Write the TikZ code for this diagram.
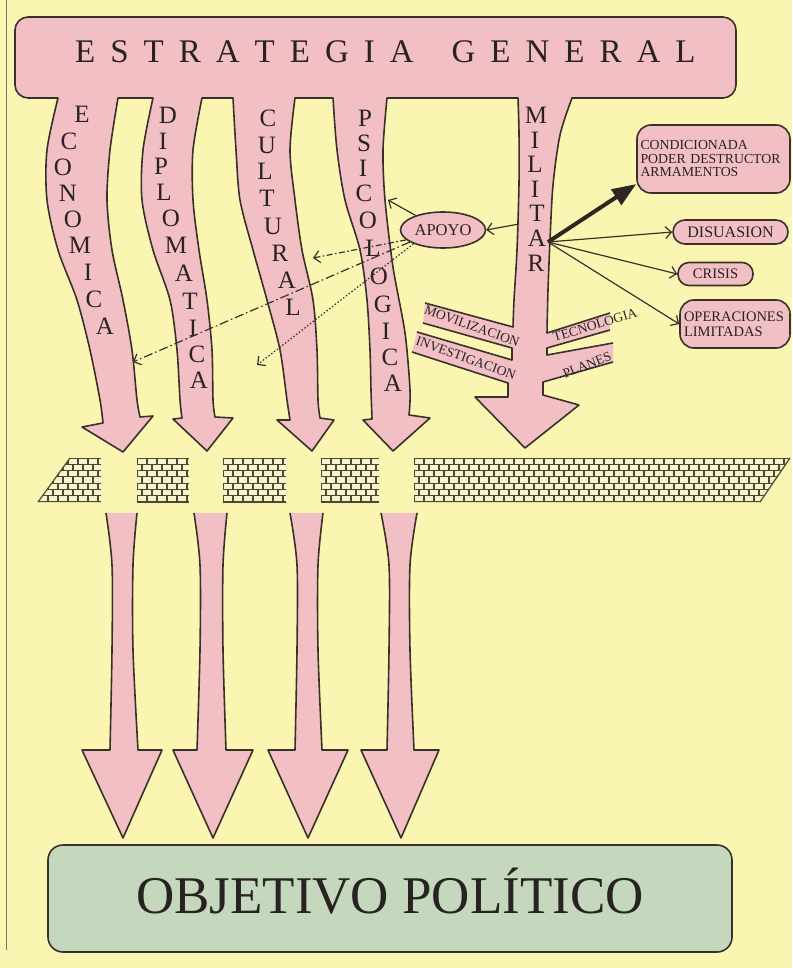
\documentclass[tikz,border=0pt]{standalone}
\usepackage{fontspec}
\setmainfont{Liberation Serif}
\usetikzlibrary{arrows.meta,shapes.geometric}
\definecolor{bgc}{RGB}{250,246,178}
\definecolor{pinkc}{RGB}{242,192,196}
\definecolor{greenc}{RGB}{197,216,190}
\definecolor{outc}{RGB}{58,48,42}
\definecolor{txtc}{RGB}{40,34,34}
\definecolor{mortarc}{RGB}{78,72,48}
\definecolor{brickc}{RGB}{247,243,204}
\newcommand\brickwall[3]{%
  \begin{scope}
    \clip #1;
    \fill[brickc] #1;
    \foreach \r in {0,...,6}{%
      \pgfmathsetmacro\ya{458+\r*44/7}%
      \pgfmathsetmacro\yb{458+(\r+1)*44/7}%
      \pgfmathsetmacro\xo{#2+mod(\r,2)*5}%
      \draw[mortar] (#2,\ya) -- (#3,\ya);
      \foreach \k in {0,...,40}{%
        \pgfmathsetmacro\xx{\xo+10*\k}%
        \ifdim\xx pt<#3pt \draw[mortar] (\xx,\ya) -- (\xx,\yb);\fi
      }%
    }%
    \draw[mortar] (#2,502) -- (#3,502);
  \end{scope}}
\newcommand\lsp{\kern15pt }
\begin{document}
\begin{tikzpicture}[x=1pt,y=-1pt,
  outl/.style={draw=outc,line width=1.6pt,line join=round},
  mortar/.style={draw=mortarc,line width=1.2pt},
  vlet/.style={font=\fontsize{25}{25}\selectfont,text=txtc,inner sep=0pt},
  striptxt/.style={font=\fontsize{13.5}{13.5}\selectfont,text=txtc,inner sep=0pt},
  rbox/.style={draw=outc,fill=pinkc,line width=1.6pt,text=txtc,inner sep=3pt},
  conn/.style={draw=outc,line width=1.2pt,-{Straight Barb[length=6pt,width=12pt]}},
  thickarr/.style={draw=outc!80!black,line width=4pt,-{Triangle[length=24pt,width=18pt]}},
  dashA/.style={dash pattern=on 6pt off 2.5pt on 1.5pt off 2.5pt},
  dashB/.style={dash pattern=on 9pt off 3pt on 1.5pt off 3pt},
  dotC/.style={dash pattern=on 1.5pt off 2pt}]
\fill[bgc] (0,0) rectangle (792,968);
\useasboundingbox (0,0) rectangle (792,968);
\draw[black!55,line width=0.8pt] (6,0) -- (6,950);

% ---------- upper pink shape: box + arrows ----------
\path[fill=pinkc]
 (15,85) -- (15,30) .. controls (15,23) and (21,17) .. (28,17) -- (723,17) .. controls (730,17) and (736,23) .. (736,30) -- (736,85) .. controls (736,92) and (730,98) .. (723,98) -- (572,98)
 -- plot[smooth] coordinates {(572,98) (560,135) (553,185) (550,240) (548,290) (547,333)}
 -- (610,313) -- (610,330) -- (547,348) -- (547,355) -- (613,343) -- (613,362) -- (543,382) -- (543,395) -- (579,405) -- (525,448) -- (475,397) -- (508,397) -- (508,383) -- (412,352) -- (417,332) -- (512,360) -- (512,348) -- (423,323) -- (425,303) -- (513,327)
 -- plot[smooth] coordinates {(513,327) (514,300) (517,250) (519,183) (519,133) (518,98)}
 -- (387,98)
 -- plot[smooth] coordinates {(387,98) (383,150) (385,200) (393,267) (405,333) (410,390) (409,415)}
 -- (430,418) -- (393,451) -- (363,420) -- (372,419)
 -- plot[smooth] coordinates {(372,419) (371,390) (370,350) (367,300) (360,250) (345,200) (337,150) (333,98)}
 -- (295,98)
 -- plot[smooth] coordinates {(295,98) (290,150) (295,200) (302,250) (313,300) (317,350) (318,400) (320,418)}
 -- (334,420) -- (312,451) -- (277,420) -- (290,420)
 -- plot[smooth] coordinates {(290,420) (287,400) (280,350) (267,300) (253,250) (240,200) (236,150) (233,98)}
 -- (202,98)
 -- plot[smooth] coordinates {(202,98) (193,150) (193,200) (199,250) (207,300) (212,350) (213,400) (215,417)}
 -- (233,418) -- (207,451) -- (173,419) -- (182,418)
 -- plot[smooth] coordinates {(182,418) (180,400) (177,350) (170,300) (153,250) (142,200) (143,150) (153,98)}
 -- (118,98)
 -- plot[smooth] coordinates {(118,98) (110,150) (107,200) (112,250) (123,300) (132,350) (137,400) (140,417)}
 -- (153,416) -- (123,452) -- (82,427) -- (103,423)
 -- plot[smooth] coordinates {(103,423) (100,400) (90,350) (77,300) (58,250) (47,200) (47,150) (58,98)}
 -- (28,98) .. controls (21,98) and (15,92) .. (15,85) -- cycle;
\path[outl]
 (15,85) -- (15,30) .. controls (15,23) and (21,17) .. (28,17) -- (723,17) .. controls (730,17) and (736,23) .. (736,30) -- (736,85) .. controls (736,92) and (730,98) .. (723,98) -- (572,98)
 -- plot[smooth] coordinates {(572,98) (560,135) (553,185) (550,240) (548,290) (547,333)}
 -- (610,313) (610,330) -- (547,348) -- (547,355) -- (613,343) (613,362) -- (543,382) -- (543,395) -- (579,405) -- (525,448) -- (475,397) -- (508,397) -- (508,383) -- (412,352) (417,332) -- (512,360) -- (512,348) -- (423,323) (425,303) -- (513,327)
 -- plot[smooth] coordinates {(513,327) (514,300) (517,250) (519,183) (519,133) (518,98)}
 -- (387,98)
 -- plot[smooth] coordinates {(387,98) (383,150) (385,200) (393,267) (405,333) (410,390) (409,415)}
 -- (430,418) -- (393,451) -- (363,420) -- (372,419)
 -- plot[smooth] coordinates {(372,419) (371,390) (370,350) (367,300) (360,250) (345,200) (337,150) (333,98)}
 -- (295,98)
 -- plot[smooth] coordinates {(295,98) (290,150) (295,200) (302,250) (313,300) (317,350) (318,400) (320,418)}
 -- (334,420) -- (312,451) -- (277,420) -- (290,420)
 -- plot[smooth] coordinates {(290,420) (287,400) (280,350) (267,300) (253,250) (240,200) (236,150) (233,98)}
 -- (202,98)
 -- plot[smooth] coordinates {(202,98) (193,150) (193,200) (199,250) (207,300) (212,350) (213,400) (215,417)}
 -- (233,418) -- (207,451) -- (173,419) -- (182,418)
 -- plot[smooth] coordinates {(182,418) (180,400) (177,350) (170,300) (153,250) (142,200) (143,150) (153,98)}
 -- (118,98)
 -- plot[smooth] coordinates {(118,98) (110,150) (107,200) (112,250) (123,300) (132,350) (137,400) (140,417)}
 -- (153,416) -- (123,452) -- (82,427) -- (103,423)
 -- plot[smooth] coordinates {(103,423) (100,400) (90,350) (77,300) (58,250) (47,200) (47,150) (58,98)}
 -- (28,98) .. controls (21,98) and (15,92) .. (15,85);

% ---------- title ----------
\node[anchor=base west,inner sep=0pt,font=\fontsize{33}{33}\selectfont,text=txtc] (estr) at (75,63)
 {E\lsp S\lsp T\lsp R\lsp A\lsp T\lsp E\lsp G\lsp I\lsp A\kern38pt G\lsp E\lsp N\lsp E\lsp R\lsp A\lsp L};

% ---------- vertical letters ----------
\foreach \ltr/\x/\y [count=\i] in {E/82/114,C/69/141,O/63/167,N/68/193,O/73/219,M/80/245,I/88/272,C/94/299,A/105/326}
  \node[vlet] (eco\i) at (\x,\y) {\ltr};
\foreach \ltr/\x/\y [count=\i] in {D/168/115,I/163/141,P/161/166,L/164/192,O/171/218,M/176/245,A/184/273,T/190/301,I/193/328,C/197/354,A/199/380}
  \node[vlet] (dip\i) at (\x,\y) {\ltr};
\foreach \ltr/\x/\y [count=\i] in {C/268/118,U/267/145,L/265/171,T/267/198,U/273/226,R/280/253,A/287/280,L/293/307}
  \node[vlet] (cul\i) at (\x,\y) {\ltr};
\foreach \ltr/\x/\y [count=\i] in {P/365/118,S/364/143,I/363/168,C/364/193,O/368/220,L/373/248,O/379/276,G/383/304,I/386/331,C/390/357,A/393/383}
  \node[vlet] (psi\i) at (\x,\y) {\ltr};
\foreach \ltr/\x/\y [count=\i] in {M/536/115,I/535/140,L/535/164,I/535/189,T/537/213,A/537/238,R/536/263}
  \node[vlet] (mil\i) at (\x,\y) {\ltr};

% ---------- strip labels ----------
\node[striptxt,rotate=-20] (mov) at (472,326) {MOVILIZACION};
\node[striptxt,rotate=-20] (inv) at (466,358) {INVESTIGACION};
\node[striptxt,rotate=17] (tec) at (595,325) {TECNOLOGIA};
\node[striptxt,rotate=22] (pla) at (587,365) {PLANES};

% ---------- right boxes ----------
\node[rbox,rounded corners=14pt,minimum width=153pt,minimum height=68pt,text width=146pt,align=left,
  font=\fontsize{13.8}{13.5}\selectfont] (cond) at (713.5,159) {CONDICIONADA\\PODER DESTRUCTOR\\ARMAMENTOS};
\node[rbox,rounded corners=12pt,minimum width=115pt,minimum height=24pt,font=\fontsize{16}{16}\selectfont] (dis) at (730.5,232) {DISUASION};
\node[rbox,rounded corners=11pt,minimum width=75pt,minimum height=23pt,font=\fontsize{14.5}{14.5}\selectfont] (cri) at (715.5,274) {CRISIS};
\node[rbox,rounded corners=14pt,minimum width=110pt,minimum height=48pt,text width=102pt,align=left,
  font=\fontsize{14.5}{15}\selectfont] (ope) at (735,324) {OPERACIONES\\LIMITADAS};
\node[rbox,ellipse,inner sep=0pt,minimum width=85pt,minimum height=36pt,font=\fontsize{16.5}{16.5}\selectfont] (apoyo) at (443,230) {APOYO};

% ---------- connectors ----------
\coordinate (milpt) at (548,242);
\coordinate (milL) at (519,224);
\coordinate (psiA) at (388,200);
\coordinate (culR) at (313,258);
\coordinate (ecoR) at (133,362);
\coordinate (gapC) at (257,365);
\draw[thickarr] (milpt) -- (cond.198);
\draw[conn] (milpt) -- (dis.west);
\draw[conn] (milpt) -- (cri.west);
\draw[conn] (milpt) -- (ope.west);
\draw[conn] (milL) -- (apoyo.east);
\draw[conn] (apoyo.152) -- (psiA);
\draw[conn,dashA] (apoyo.195) -- (culR);
\draw[conn,dashB] (apoyo.200) -- (ecoR);
\draw[conn,dotC] (apoyo.205) -- (gapC);

% ---------- brick wall ----------
\brickwall{(38,502) -- (70,458) -- (101,458) -- (101,502) -- cycle}{38}{101}
\brickwall{(137,458) rectangle (189,502)}{137}{189}
\brickwall{(223,458) rectangle (286,502)}{223}{286}
\brickwall{(321,458) rectangle (379,502)}{321}{379}
\brickwall{(414,458) -- (790,458) -- (760,502) -- (414,502) -- cycle}{414}{790}
\draw[mortar] (38,502) -- (70,458);
\draw[mortar] (790,458) -- (760,502);

% ---------- lower arrows ----------
\foreach \xa/\xb/\xc/\xd/\xe/\xf/\xg/\xh/\xi in {106/112/110/82/123/162/138/133/137,
   194/200/197/173/213/253/226/223/227, 290/297/295/268/308/348/322/318/323, 381/389/387/361/401/439/414/410/417}{
  \path[fill=pinkc] (\xa,513) -- plot[smooth] coordinates {(\xa,513) (\xb,565) (\xb,650) (\xc,750)}
    -- (\xd,750) -- (\xe,838) -- (\xf,750) -- (\xg,750)
    -- plot[smooth] coordinates {(\xg,750) (\xh,650) (\xh,565) (\xi,513)} -- cycle;
  \path[outl] (\xa,513) -- plot[smooth] coordinates {(\xa,513) (\xb,565) (\xb,650) (\xc,750)}
    -- (\xd,750) -- (\xe,838) -- (\xf,750) -- (\xg,750)
    -- plot[smooth] coordinates {(\xg,750) (\xh,650) (\xh,565) (\xi,513)};
}

% ---------- bottom box ----------
\node[draw=outc,fill=greenc,line width=1.6pt,rounded corners=15pt,minimum width=684pt,minimum height=107pt,
  text height=29pt,text depth=0pt,text=txtc,font=\fontsize{53}{53}\selectfont] (obj) at (390,898.5) {OBJETIVO POLÍTICO};
\end{tikzpicture}
\end{document}
